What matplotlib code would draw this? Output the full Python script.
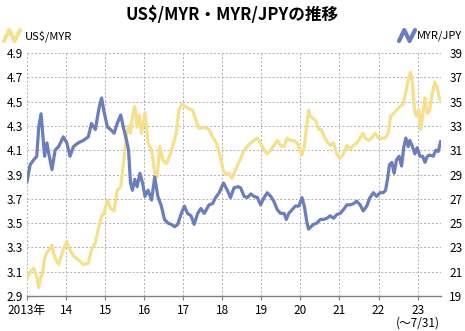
import matplotlib.pyplot as plt
from matplotlib.lines import Line2D
import numpy as np

plt.rcParams['font.family'] = ['Noto Sans CJK JP', 'DejaVu Sans']

# US$/MYR (left axis) - decimal year, value
usd_myr_t = [2013.00, 2013.08, 2013.17, 2013.25, 2013.30, 2013.34, 2013.40, 2013.45, 2013.51, 2013.57,
             2013.64, 2013.68, 2013.72, 2013.81, 2013.93, 2014.02, 2014.10, 2014.19, 2014.31, 2014.44,
             2014.57, 2014.65, 2014.75, 2014.84, 2014.91, 2014.97, 2015.06, 2015.14, 2015.23, 2015.31,
             2015.40, 2015.48, 2015.55, 2015.60, 2015.65, 2015.70, 2015.76, 2015.82, 2015.87, 2015.93,
             2016.02, 2016.10, 2016.19, 2016.27, 2016.33, 2016.40, 2016.48, 2016.57, 2016.65, 2016.73,
             2016.82, 2016.89, 2016.97, 2017.05, 2017.14, 2017.24, 2017.32, 2017.41, 2017.54, 2017.66,
             2017.75, 2017.85, 2017.93, 2018.02, 2018.08, 2018.17, 2018.25, 2018.34, 2018.41, 2018.47,
             2018.56, 2018.64, 2018.73, 2018.81, 2018.90, 2018.98, 2019.07, 2019.15, 2019.24, 2019.32,
             2019.41, 2019.49, 2019.58, 2019.66, 2019.75, 2019.83, 2019.92, 2019.98, 2020.04, 2020.10,
             2020.15, 2020.21, 2020.25, 2020.32, 2020.38, 2020.47, 2020.53, 2020.61, 2020.68, 2020.76,
             2020.85, 2020.93, 2021.02, 2021.10, 2021.19, 2021.27, 2021.36, 2021.44, 2021.53, 2021.60,
             2021.66, 2021.74, 2021.83, 2021.91, 2022.00, 2022.08, 2022.17, 2022.25, 2022.31, 2022.38,
             2022.46, 2022.55, 2022.63, 2022.70, 2022.76, 2022.82, 2022.87, 2022.92, 2022.97, 2023.03,
             2023.08, 2023.13, 2023.19, 2023.25, 2023.31, 2023.38, 2023.44, 2023.50, 2023.55, 2023.59]
usd_myr = [3.04, 3.10, 3.13, 3.06, 2.97, 3.04, 3.09, 3.21, 3.26, 3.28,
           3.32, 3.25, 3.21, 3.16, 3.28, 3.35, 3.28, 3.23, 3.20, 3.16,
           3.17, 3.28, 3.34, 3.47, 3.56, 3.58, 3.69, 3.62, 3.60, 3.77,
           3.80, 4.02, 4.24, 4.30, 4.24, 4.38, 4.46, 4.29, 4.39, 4.24,
           4.41, 4.16, 4.10, 3.91, 3.88, 4.13, 4.02, 3.99, 4.05, 4.13,
           4.24, 4.43, 4.48, 4.46, 4.44, 4.43, 4.35, 4.28, 4.29, 4.27,
           4.21, 4.16, 4.07, 3.94, 3.90, 3.91, 3.87, 3.94, 3.99, 4.03,
           4.10, 4.13, 4.16, 4.18, 4.20, 4.16, 4.10, 4.07, 4.10, 4.14,
           4.18, 4.14, 4.13, 4.20, 4.18, 4.18, 4.16, 4.10, 4.06, 4.13,
           4.27, 4.43, 4.38, 4.36, 4.35, 4.27, 4.27, 4.21, 4.17, 4.14,
           4.16, 4.07, 4.03, 4.07, 4.14, 4.11, 4.14, 4.16, 4.20, 4.24,
           4.20, 4.18, 4.20, 4.24, 4.20, 4.20, 4.20, 4.24, 4.38, 4.40,
           4.43, 4.46, 4.48, 4.58, 4.68, 4.74, 4.65, 4.43, 4.38, 4.43,
           4.27, 4.38, 4.53, 4.40, 4.43, 4.57, 4.66, 4.62, 4.54, 4.51]

# MYR/JPY (right axis)
myr_jpy_t = [2013.00, 2013.08, 2013.17, 2013.25, 2013.30, 2013.36, 2013.40, 2013.45, 2013.51, 2013.57,
             2013.64, 2013.72, 2013.81, 2013.93, 2014.02, 2014.10, 2014.19, 2014.31, 2014.44, 2014.57,
             2014.65, 2014.75, 2014.84, 2014.91, 2014.97, 2015.06, 2015.14, 2015.23, 2015.31, 2015.40,
             2015.48, 2015.55, 2015.60, 2015.65, 2015.70, 2015.76, 2015.82, 2015.89, 2015.96, 2016.02,
             2016.10, 2016.19, 2016.27, 2016.35, 2016.44, 2016.52, 2016.61, 2016.69, 2016.78, 2016.86,
             2016.95, 2017.03, 2017.11, 2017.20, 2017.28, 2017.37, 2017.45, 2017.54, 2017.66, 2017.75,
             2017.83, 2017.92, 2018.03, 2018.13, 2018.21, 2018.30, 2018.41, 2018.47, 2018.56, 2018.64,
             2018.73, 2018.81, 2018.90, 2018.98, 2019.07, 2019.15, 2019.24, 2019.32, 2019.41, 2019.49,
             2019.58, 2019.64, 2019.70, 2019.79, 2019.87, 2019.96, 2020.04, 2020.10, 2020.17, 2020.21,
             2020.27, 2020.34, 2020.42, 2020.51, 2020.59, 2020.68, 2020.76, 2020.85, 2020.93, 2021.02,
             2021.10, 2021.19, 2021.27, 2021.36, 2021.44, 2021.53, 2021.61, 2021.70, 2021.78, 2021.87,
             2021.95, 2022.04, 2022.12, 2022.18, 2022.23, 2022.28, 2022.34, 2022.40, 2022.46, 2022.53,
             2022.59, 2022.65, 2022.70, 2022.76, 2022.80, 2022.87, 2022.93, 2022.99, 2023.06, 2023.13,
             2023.19, 2023.25, 2023.31, 2023.40, 2023.47, 2023.53, 2023.59]
myr_jpy = [28.4, 29.8, 30.2, 30.5, 32.9, 34.0, 32.4, 30.5, 31.6, 30.5,
           29.4, 31.0, 31.3, 32.1, 31.6, 30.5, 31.3, 31.6, 31.8, 32.1,
           33.2, 32.7, 34.4, 35.3, 34.2, 32.9, 32.7, 32.4, 33.2, 33.9,
           32.7, 31.8, 31.0, 28.3, 27.7, 28.6, 28.0, 29.1, 28.3, 27.2,
           27.7, 26.9, 28.8, 27.2, 26.4, 25.3, 25.0, 24.9, 24.7, 24.9,
           25.8, 26.4, 25.8, 25.6, 24.9, 25.8, 26.2, 25.8, 26.5, 26.6,
           27.1, 27.5, 28.3, 27.7, 27.1, 27.9, 28.0, 27.9, 27.2, 27.1,
           27.4, 27.2, 27.1, 26.5, 27.1, 27.5, 27.2, 26.8, 26.1, 25.8,
           25.8, 25.3, 25.8, 26.1, 26.4, 26.4, 27.1, 26.4, 25.0, 24.5,
           24.7, 24.9, 25.0, 25.3, 25.3, 25.4, 25.6, 25.4, 25.7, 25.8,
           26.1, 26.5, 26.5, 26.6, 26.8, 26.5, 26.0, 26.4, 27.1, 27.5,
           27.2, 27.5, 27.5, 27.7, 28.6, 29.8, 30.0, 29.1, 30.2, 30.5,
           29.7, 31.3, 32.0, 31.3, 31.8, 31.3, 30.7, 31.2, 30.5, 30.5,
           30.0, 30.5, 30.6, 30.5, 31.0, 30.9, 31.7]

years = list(range(2013, 2024))
year_labels = ['2013年', '14', '15', '16', '17', '18', '19', '20', '21', '22', '23\n(～7/31)']
left_ticks = np.round(np.arange(2.9, 4.91, 0.2), 1)
right_ticks = np.arange(19, 40, 2)

yellow = '#F6E08A'
blue = '#6A7DBF'
grid_c = '#b0b0b0'

fig = plt.figure(figsize=(4.65, 3.31), dpi=100)
ax = fig.add_axes([27 / 465, 1 - 296 / 331, 414 / 465, 243 / 331])
ax2 = ax.twinx()

ax.plot(usd_myr_t, usd_myr, color=yellow, lw=2.3, solid_joinstyle='round')
ax2.plot(myr_jpy_t, myr_jpy, color=blue, lw=2.3, solid_joinstyle='round')

ax.set_xlim(2013, 2023.6)
ax.set_ylim(2.9, 4.9)
ax2.set_ylim(19, 39)
ax.set_yticks(left_ticks)
ax.set_yticklabels([f'{v:.1f}' for v in left_ticks])
ax2.set_yticks(right_ticks)
ax.set_xticks(years)
ax.set_xticklabels(year_labels, linespacing=0.95)
ax.get_xticklabels()[0].set_x(2013.1)

for a in (ax, ax2):
    for s in a.spines.values():
        s.set_visible(False)
ax.spines['bottom'].set_visible(True)
ax.spines['bottom'].set_color('#808080')
ax.spines['bottom'].set_linewidth(1.0)

ax.grid(True, color=grid_c, linestyle=(0, (2, 2)), linewidth=0.7)
ax.set_axisbelow(True)

ax.tick_params(axis='x', length=3, color='#808080', labelsize=8.5, pad=3)
ax.tick_params(axis='y', length=0, labelsize=8.5, pad=3)
ax2.tick_params(axis='y', length=0, labelsize=8.5, pad=6)

fig.text(0.5, 0.955, 'US$/MYR・MYR/JPYの推移', ha='center', va='center',
         fontsize=12, fontweight='bold')

# legend icons
def zig(x0, x1, y0, y1, color):
    xs = [x0, x0 + (x1 - x0) * 0.33, x0 + (x1 - x0) * 0.66, x1]
    ys = [y0, y1, y0, y1]
    fig.add_artist(Line2D([x / 465 for x in xs], [1 - y / 331 for y in ys],
                          color=color, lw=3, solid_joinstyle='round', solid_capstyle='round'))

zig(4, 20, 41, 30, yellow)
fig.text(25 / 465, 1 - 36 / 331, 'US$/MYR', ha='left', va='center', fontsize=8)
zig(399, 415, 41, 30, blue)
fig.text(462 / 465, 1 - 36 / 331, 'MYR/JPY', ha='right', va='center', fontsize=8)

fig.savefig('out.png', dpi=100)
